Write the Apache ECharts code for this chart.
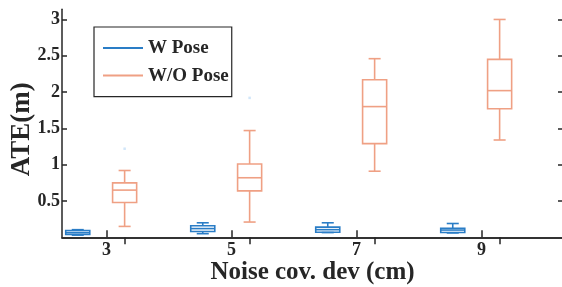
<!DOCTYPE html>
<html>
<head>
<meta charset="utf-8">
<script src="https://cdn.jsdelivr.net/npm/echarts@6/dist/echarts.min.js"></script>
<style>
  html, body { margin: 0; padding: 0; background: #fff; }
  #chart { width: 562px; height: 287px; }
</style>
</head>
<body>
<div id="chart"></div>
<script>
// noise levels on the x axis
const categories = [3, 5, 7, 9];
// [min, q1, median, q3, max] per noise level
const wPose = [
  [0.03, 0.04, 0.065, 0.093, 0.105],
  [0.05, 0.08, 0.12, 0.16, 0.20],
  [0.065, 0.07, 0.105, 0.14, 0.20],
  [0.06, 0.066, 0.10, 0.125, 0.19]
];
const woPose = [
  [0.15, 0.48, 0.65, 0.75, 0.92],
  [0.21, 0.64, 0.82, 1.01, 1.47],
  [0.91, 1.29, 1.80, 2.17, 2.46],
  [1.34, 1.77, 2.02, 2.45, 3.00]
];
// outliers: [noise level, value]
const outliers = [[3, 1.22], [5, 1.92]];
const yTicks = [0.5, 1, 1.5, 2, 2.5, 3];

// layout
const W_OFFSET = -0.46;
const WO_OFFSET = 0.29;
const BOX_W = 0.385;
const BLUE = '#2A7DC6';
const ORANGE = '#EFA084';
const AXIS = '#262626';
const FONT = "'Liberation Serif', 'Times New Roman', serif";

function renderBox(color) {
  return function (params, api) {
    const x = api.value(0);
    const pMin = api.coord([x, api.value(1)]);
    const pQ1 = api.coord([x, api.value(2)]);
    const pMed = api.coord([x, api.value(3)]);
    const pQ3 = api.coord([x, api.value(4)]);
    const pMax = api.coord([x, api.value(5)]);
    const half = api.size([BOX_W, 0])[0] / 2;
    const cap = half / 2;
    const cx = pMed[0];
    const st = { stroke: color, lineWidth: 1.6, fill: null };
    return {
      type: 'group',
      children: [
        { type: 'line', shape: { x1: cx, y1: pMax[1], x2: cx, y2: pQ3[1] }, style: st },
        { type: 'line', shape: { x1: cx, y1: pQ1[1], x2: cx, y2: pMin[1] }, style: st },
        { type: 'line', shape: { x1: cx - cap, y1: pMax[1], x2: cx + cap, y2: pMax[1] }, style: st },
        { type: 'line', shape: { x1: cx - cap, y1: pMin[1], x2: cx + cap, y2: pMin[1] }, style: st },
        { type: 'rect', shape: { x: cx - half, y: pQ3[1], width: half * 2, height: pQ1[1] - pQ3[1] },
          style: { stroke: color, lineWidth: 1.6, fill: 'none' } },
        { type: 'line', shape: { x1: cx - half, y1: pMed[1], x2: cx + half, y2: pMed[1] }, style: st }
      ]
    };
  };
}

const chart = echarts.init(document.getElementById('chart'));
const X_MIN = 2.288, X_MAX = 10.304, Y_MIN = 0, Y_MAX = 3.14;

chart.setOption({
  animation: false,
  textStyle: { fontFamily: FONT },
  grid: { left: 62, right: -1, top: 9.3, bottom: 49.7, outerBoundsMode: 'none', containLabel: false },
  legend: {
    orient: 'vertical',
    left: 94,
    top: 27,
    padding: [11, 3, 11, 9],
    borderColor: AXIS,
    borderWidth: 1.2,
    backgroundColor: '#fff',
    itemWidth: 40,
    itemHeight: 2,
    itemGap: 7.6,
    icon: 'rect',
    textStyle: { fontFamily: FONT, fontWeight: 'bold', fontSize: 19, color: AXIS, lineHeight: 20 },
    data: [
      { name: 'W Pose', itemStyle: { color: BLUE } },
      { name: 'W/O Pose', itemStyle: { color: ORANGE } }
    ]
  },
  xAxis: [
    {
      type: 'value', min: X_MIN, max: X_MAX, position: 'bottom',
      name: 'Noise cov. dev (cm)', nameLocation: 'middle', nameGap: 23, nameMoveOverlap: false,
      nameTextStyle: { fontFamily: FONT, fontWeight: 'bold', fontSize: 25, color: AXIS },
      axisLine: { lineStyle: { color: AXIS, width: 1.5 } },
      axisTick: { inside: true, length: 7, lineStyle: { color: AXIS, width: 1.5 }, customValues: categories },
      axisLabel: { customValues: categories, margin: 4, fontFamily: FONT, fontWeight: 'bold', fontSize: 18, color: AXIS },
      splitLine: { show: false }
    },
    {
      type: 'value', min: X_MIN, max: X_MAX, position: 'top',
      axisLine: { lineStyle: { color: AXIS, width: 1.5 } },
      axisTick: { inside: true, length: 7, lineStyle: { color: AXIS, width: 1.5 },
        customValues: categories.map(c => c + WO_OFFSET) },
      axisLabel: { show: false },
      splitLine: { show: false }
    }
  ],
  yAxis: [
    {
      type: 'value', min: Y_MIN, max: Y_MAX, position: 'left',
      name: 'ATE(m)', nameLocation: 'middle', nameGap: 26, nameRotate: 90, nameMoveOverlap: false,
      nameTextStyle: { fontFamily: FONT, fontWeight: 'bold', fontSize: 27, color: AXIS, padding: [0, 12, 0, 0] },
      axisLine: { show: true, lineStyle: { color: AXIS, width: 1.5 } },
      axisTick: { show: true, inside: true, length: 5, lineStyle: { color: AXIS, width: 1.5 }, customValues: yTicks },
      axisLabel: { customValues: yTicks, margin: 2, fontFamily: FONT, fontWeight: 'bold', fontSize: 18, color: AXIS },
      splitLine: { show: false }
    },
    {
      type: 'value', min: Y_MIN, max: Y_MAX, position: 'right',
      axisLine: { show: true, lineStyle: { color: AXIS, width: 1.5 } },
      axisTick: { show: true, inside: true, length: 5, lineStyle: { color: AXIS, width: 1.5 }, customValues: yTicks },
      axisLabel: { show: false },
      splitLine: { show: false }
    }
  ],
  series: [
    {
      name: 'W Pose',
      type: 'custom',
      renderItem: renderBox(BLUE),
      itemStyle: { color: BLUE },
      encode: { x: 0, y: [1, 2, 3, 4, 5] },
      data: categories.map((c, i) => [c + W_OFFSET].concat(wPose[i]))
    },
    {
      name: 'W/O Pose',
      type: 'custom',
      renderItem: renderBox(ORANGE),
      itemStyle: { color: ORANGE },
      encode: { x: 0, y: [1, 2, 3, 4, 5] },
      data: categories.map((c, i) => [c + WO_OFFSET].concat(woPose[i]))
    },
    {
      name: 'outliers',
      type: 'scatter',
      symbol: 'rect',
      symbolSize: 2.5,
      itemStyle: { color: '#C6E0F7' },
      data: outliers.map(o => [o[0] + WO_OFFSET, o[1]])
    }
  ]
});
</script>
</body>
</html>
